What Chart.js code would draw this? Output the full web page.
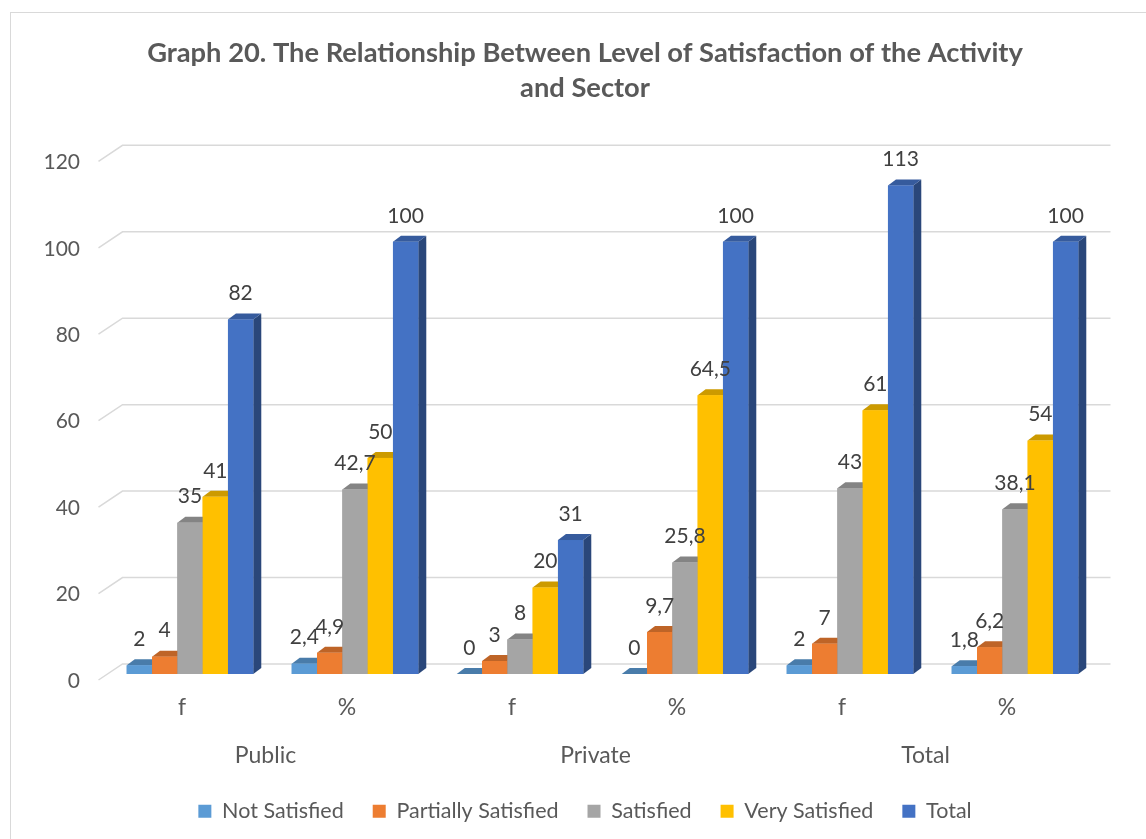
<!DOCTYPE html>
<html lang="en">
<head>
    <meta charset="UTF-8">
    <title>Graph 20</title>
    <script src="https://cdn.jsdelivr.net/npm/chart.js"></script>
    <style>
        html, body { margin: 0; padding: 0; background: #fff; overflow: hidden; }
        #frame { position: absolute; left: 10px; top: 12px; width: 1300px; height: 1000px; border: 1px solid #d9d9d9; }
        #chartSatisfacao { position: absolute; left: 0; top: 0; }
    </style>
</head>
<body>
    <div id="frame"></div>
    <canvas id="chartSatisfacao" width="1146" height="839"></canvas>

    <script>
    // categorias (f / %) e setores
    const colunas = ['f', '%', 'f', '%', 'f', '%'];
    const setores = ['Public', 'Private', 'Total'];

    // valores por nível de satisfação
    const notSatisfied = [2, 2.4, 0, 0, 2, 1.8];
    const partiallySatisfied = [4, 4.9, 3, 9.7, 7, 6.2];
    const satisfied = [35, 42.7, 8, 25.8, 43, 38.1];
    const verySatisfied = [41, 50, 20, 64.5, 61, 54];
    const totalValues = [82, 100, 31, 100, 113, 100];

    const yTicks = [0, 20, 40, 60, 80, 100, 120];

    const cores = ['#5B9BD5', '#ED7D31', '#A5A5A5', '#FFC000', '#4472C4'];
    const fonte = 'Lato';

    // escurecer uma cor hex
    function sombra(hex, f) {
        const n = parseInt(hex.slice(1), 16);
        const r = Math.round(((n >> 16) & 255) * f);
        const g = Math.round(((n >> 8) & 255) * f);
        const b = Math.round((n & 255) * f);
        return `rgb(${r}, ${g}, ${b})`;
    }

    // profundidade do efeito 3D
    const DX = 8, DY = 6;

    // parede de fundo com as linhas de grelha inclinadas
    const paredeFundo = {
        id: 'paredeFundo',
        beforeDatasetsDraw(chart) {
            const { ctx, chartArea, scales: { y } } = chart;
            ctx.save();
            ctx.strokeStyle = '#d9d9d9';
            ctx.lineWidth = 1.5;
            yTicks.forEach(v => {
                const py = y.getPixelForValue(v);
                ctx.beginPath();
                ctx.moveTo(chartArea.left - 9, py + 6);
                ctx.lineTo(chartArea.left + 15, py - 10);
                ctx.lineTo(chartArea.right + 13, py - 10);
                ctx.stroke();
            });
            ctx.restore();
        }
    };

    // barras 3D: face lateral, topo e frente, da esquerda para a direita
    const barras3D = {
        id: 'barras3D',
        afterDatasetsDraw(chart) {
            const { ctx } = chart;
            const n = chart.data.labels.length;
            ctx.save();
            for (let j = 0; j < n; j++) {
                chart.data.datasets.forEach((ds, i) => {
                    const bar = chart.getDatasetMeta(i).data[j];
                    const { x, y, base, width } = bar.getProps(['x', 'y', 'base', 'width'], true);
                    const left = x - width / 2, right = x + width / 2;
                    const cor = cores[i];

                    ctx.fillStyle = sombra(cor, 0.62);
                    ctx.beginPath();
                    ctx.moveTo(right, y);
                    ctx.lineTo(right + DX, y - DY);
                    ctx.lineTo(right + DX, base - DY);
                    ctx.lineTo(right, base);
                    ctx.closePath();
                    ctx.fill();

                    ctx.fillStyle = sombra(cor, 0.8);
                    ctx.beginPath();
                    ctx.moveTo(left, y);
                    ctx.lineTo(left + DX, y - DY);
                    ctx.lineTo(right + DX, y - DY);
                    ctx.lineTo(right, y);
                    ctx.closePath();
                    ctx.fill();

                    ctx.fillStyle = cor;
                    ctx.fillRect(left, y, width, base - y);
                });
            }

            // rótulos de valores
            ctx.font = `21px ${fonte}`;
            ctx.fillStyle = '#404040';
            ctx.textAlign = 'center';
            ctx.textBaseline = 'middle';
            chart.data.datasets.forEach((ds, i) => {
                chart.getDatasetMeta(i).data.forEach((bar, j) => {
                    const txt = String(ds.data[j]).replace('.', ',');
                    ctx.fillText(txt, bar.x, bar.y - 26);
                });
            });
            ctx.restore();
        }
    };

    const ctx = document.getElementById('chartSatisfacao').getContext('2d');
    new Chart(ctx, {
        type: 'bar',
        data: {
            labels: colunas,
            datasets: [
                { label: 'Not Satisfied', data: notSatisfied, backgroundColor: cores[0] },
                { label: 'Partially Satisfied', data: partiallySatisfied, backgroundColor: cores[1] },
                { label: 'Satisfied', data: satisfied, backgroundColor: cores[2] },
                { label: 'Very Satisfied', data: verySatisfied, backgroundColor: cores[3] },
                { label: 'Total', data: totalValues, backgroundColor: cores[4] }
            ]
        },
        options: {
            responsive: false,
            animation: false,
            barPercentage: 1,
            categoryPercentage: 0.767,
            layout: { padding: { left: 24, right: 0, top: 0, bottom: 7 } },
            plugins: {
                tooltip: { enabled: false },
                title: {
                    display: true,
                    text: ['Graph 20. The Relationship Between Level of Satisfaction of the Activity', 'and Sector'],
                    color: '#595959',
                    font: { family: fonte, size: 27.3, weight: 'bold', lineHeight: 1.285 },
                    padding: { top: 36, bottom: 49.2 }
                },
                legend: {
                    position: 'bottom',
                    labels: {
                        color: '#595959',
                        font: { family: fonte, size: 21.5 },
                        boxWidth: 13,
                        boxHeight: 13,
                        padding: 29
                    }
                }
            },
            scales: {
                y: {
                    min: 0,
                    max: 120,
                    afterFit: (s) => { s.width = 83.5; },
                    afterBuildTicks: (s) => { s.ticks = yTicks.map(v => ({ value: v })); },
                    grid: { display: false, drawTicks: false },
                    border: { display: false },
                    ticks: {
                        color: '#595959',
                        font: { family: fonte, size: 21 },
                        padding: 27.5,
                        labelOffset: 7
                    }
                },
                // margem direita da área do gráfico
                yRight: {
                    type: 'linear',
                    position: 'right',
                    afterFit: (s) => { s.width = 48.5; },
                    grid: { display: false, drawTicks: false },
                    border: { display: false },
                    ticks: { display: false }
                },
                x: {
                    afterFit: (s) => { s.height = 50; },
                    grid: { display: false, drawTicks: false },
                    border: { display: false },
                    ticks: {
                        color: '#595959',
                        font: { family: fonte, size: 23 },
                        padding: 20,
                        labelOffset: -8
                    }
                },
                x2: {
                    type: 'category',
                    labels: setores,
                    position: 'bottom',
                    offset: true,
                    afterFit: (s) => { s.height = 47.5; },
                    grid: { display: false, drawTicks: false },
                    border: { display: false },
                    ticks: {
                        color: '#595959',
                        font: { family: fonte, size: 23 },
                        padding: 18,
                        labelOffset: -7
                    }
                }
            }
        },
        plugins: [paredeFundo, barras3D]
    });
    </script>
</body>
</html>
